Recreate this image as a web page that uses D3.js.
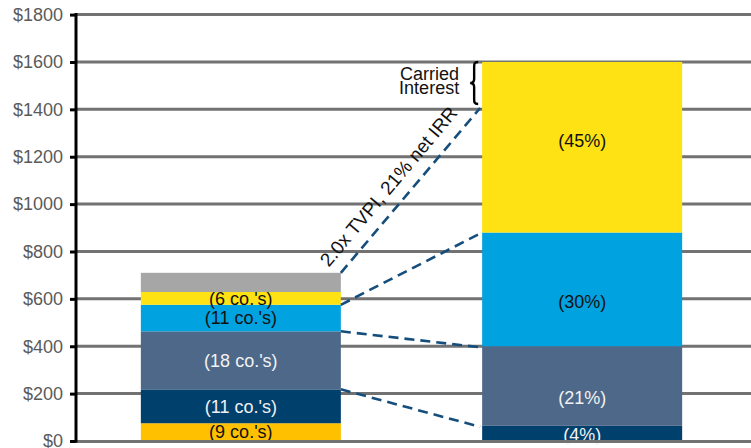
<!DOCTYPE html>
<html>
<head>
<meta charset="utf-8">
<script src="https://cdn.jsdelivr.net/npm/d3@7"></script>
<style>
  html, body { margin: 0; padding: 0; background: #fff; }
  svg { display: block; font-family: "Liberation Sans", Arial, sans-serif; }
</style>
</head>
<body>
<svg id="chart" width="751" height="448"></svg>
<script>
// ---- data ----
const columns = ["Invested capital", "Total value"];

// Left column: capital invested by company group ($M), bottom to top
const investedGroups = ["Group A", "Group B", "Group C", "Group D", "Group E", "Fees & expenses"];
const investedValues = [75, 143, 245, 112, 54, 81];
const investedLabels = ["(9 co.'s)", "(11 co.'s)", "(18 co.'s)", "(11 co.'s)", "(6 co.'s)", ""];

// Right column: total value split by share (%), bottom to top
const valueGroups = ["Group B", "Group C", "Group D", "Group E"];
const valueShares = [4, 21, 30, 45];
const valueLabels = ["(4%)", "(21%)", "(30%)", "(45%)"];
const totalValue = 1600;
const carryStart = 1410;   // value below the carried-interest slice

const yTicks = [0, 200, 400, 600, 800, 1000, 1200, 1400, 1600, 1800];
const tickLabels = ["$0", "$200", "$400", "$600", "$800", "$1000", "$1200", "$1400", "$1600", "$1800"];

const annotation = "2.0x TVPI, 21% net IRR";
const carryLabel = ["Carried", "Interest"];

// ---- styles ----
const groupColor = {
  "Group A": "#FFC000",
  "Group B": "#00406D",
  "Group C": "#4E6889",
  "Group D": "#00A2E0",
  "Group E": "#FFE213",
  "Fees & expenses": "#A6A6A6"
};
const lightText = new Set(["Group B", "Group C"]);

const svg = d3.select("#chart");
const W = 751;

const x = d3.scaleBand().domain(columns).range([76, 747]).paddingInner(0.414).paddingOuter(0.19);
const y = d3.scaleLinear().domain([0, 1800]).range([441, 14.6]);

// gridlines
svg.append("g").selectAll("line").data(yTicks.filter(d => d > 0)).join("line")
  .attr("x1", 76).attr("x2", W)
  .attr("y1", d => y(d)).attr("y2", d => y(d))
  .attr("stroke", "#727272").attr("stroke-width", 3);

// stacked segments
function stackOf(groups, values) {
  let acc = 0;
  return groups.map((g, i) => {
    const s = { group: g, y0: acc, y1: acc + values[i], i };
    acc += values[i];
    return s;
  });
}
const leftStack = stackOf(investedGroups, investedValues);
const rightStack = stackOf(valueGroups, valueShares.map(p => p / 100 * totalValue));

function drawColumn(col, stack, labels, nudge) {
  const g = svg.append("g");
  g.selectAll("rect").data(stack).join("rect")
    .attr("x", x(col)).attr("width", x.bandwidth())
    .attr("y", d => y(d.y1)).attr("height", d => y(d.y0) - y(d.y1))
    .attr("fill", d => groupColor[d.group]);
  g.selectAll("text").data(stack.filter(d => labels[d.i])).join("text")
    .attr("x", x(col) + x.bandwidth() / 2)
    .attr("y", d => (y(d.y0) + y(d.y1)) / 2 + (nudge ? nudge[d.i] : 0))
    .attr("dy", "0.35em")
    .attr("text-anchor", "middle")
    .attr("font-size", 18)
    .attr("fill", d => lightText.has(d.group) ? "#F2F2F2" : "#111")
    .text(d => labels[d.i]);
}
drawColumn(columns[0], leftStack, investedLabels, null);
drawColumn(columns[1], rightStack, valueLabels, [1, 12, 12, -7]);

// zero baseline
svg.append("line").attr("x1", 76).attr("x2", W).attr("y1", y(0) + 0.5).attr("y2", y(0) + 0.5)
  .attr("stroke", "#727272").attr("stroke-width", 3);

// y axis
const yAxis = d3.axisLeft(y).tickValues(yTicks).tickSize(6).tickPadding(7)
  .tickFormat((d, i) => tickLabels[i]);
const ax = svg.append("g").attr("transform", "translate(76,0)").call(yAxis);
ax.select(".domain").attr("stroke", "#000").attr("stroke-width", 3)
  .attr("d", `M0,${y(1800) - 1.5}V${y(0) + 1.5}`);
ax.selectAll(".tick line").attr("stroke", "#000").attr("stroke-width", 3);
ax.selectAll(".tick text").attr("fill", "#5A5A5A").attr("font-size", 18)
  .attr("font-family", "'Liberation Sans', Arial, sans-serif");

// dashed connectors between the two columns
const leftEdge = x(columns[0]) + x.bandwidth();
const rightEdge = x(columns[1]);
const stackTop = s => s[s.length - 1].y1;
const links = [
  [leftStack[1].y1, rightStack[0].y1],
  [leftStack[2].y1, rightStack[1].y1],
  [leftStack[3].y1, rightStack[2].y1],
  [stackTop(leftStack), carryStart]
];
svg.append("g").selectAll("line").data(links).join("line")
  .attr("x1", leftEdge).attr("y1", d => y(d[0]))
  .attr("x2", rightEdge - 2).attr("y2", d => y(d[1]) + 1)
  .attr("stroke", "#154E7C").attr("stroke-width", 2.6)
  .attr("stroke-dasharray", "10,6");

// rotated multiple annotation along the top connector
svg.append("text")
  .attr("transform", `translate(${leftEdge - 12},${y(stackTop(leftStack)) - 5}) rotate(-50)`)
  .attr("font-size", 19).attr("fill", "#111")
  .text(annotation);

// carried interest brace + label
const bx = rightEdge - 4, b0 = y(totalValue), b1 = y(carryStart) - 3, bm = (b0 + b1) / 2;
svg.append("path")
  .attr("d", `M${bx},${b0} C${bx - 4},${b0} ${bx - 4},${b0 + 2} ${bx - 4},${b0 + 5}
              L${bx - 4},${bm - 4} C${bx - 4},${bm - 1} ${bx - 6},${bm} ${bx - 8},${bm}
              C${bx - 6},${bm} ${bx - 4},${bm + 1} ${bx - 4},${bm + 4}
              L${bx - 4},${b1 - 5} C${bx - 4},${b1 - 2} ${bx - 4},${b1} ${bx},${b1}`)
  .attr("fill", "none").attr("stroke", "#000").attr("stroke-width", 2.4);
svg.append("g").selectAll("text").data(carryLabel).join("text")
  .attr("x", bx - 19).attr("y", (d, i) => b0 + 18 + i * 14)
  .attr("text-anchor", "end").attr("font-size", 18).attr("fill", "#111")
  .text(d => d);
</script>
</body>
</html>
